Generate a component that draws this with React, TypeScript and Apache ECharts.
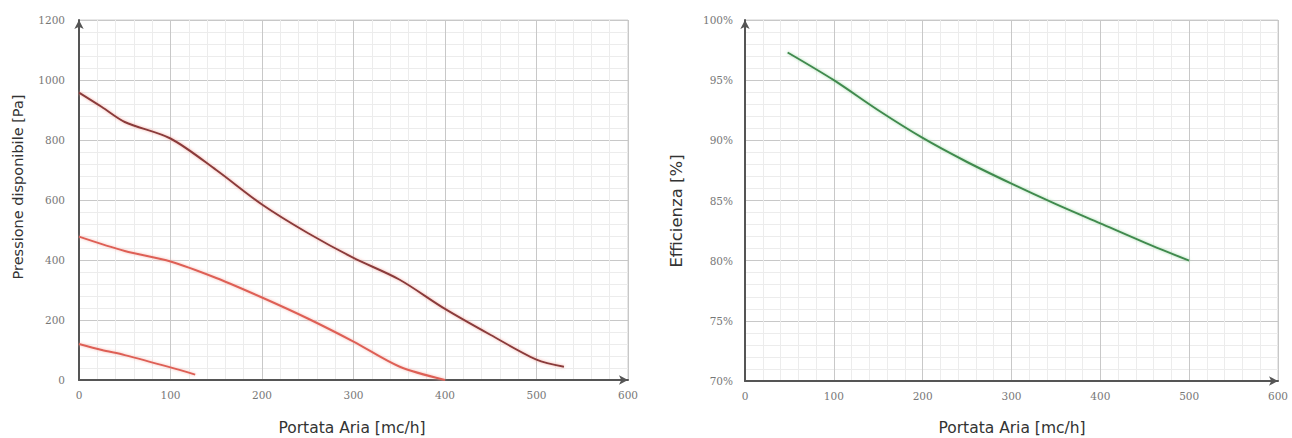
import React, { useEffect, useRef } from "react";
import * as echarts from "echarts";

const xTicks = [0, 100, 200, 300, 400, 500, 600];

const curveHighX = [0, 25, 50, 100, 150, 200, 250, 300, 350, 400, 450, 500, 530];
const curveHighY = [958, 910, 860, 805, 700, 585, 490, 407, 335, 237, 150, 68, 44];

const curveMidX = [0, 50, 100, 150, 200, 250, 300, 350, 400];
const curveMidY = [478, 430, 395, 340, 275, 205, 128, 45, 0];

const curveLowX = [0, 25, 50, 100, 127];
const curveLowY = [120, 100, 83, 42, 18];

const effX = [48, 100, 150, 200, 250, 300, 350, 400, 450, 500];
const effY = [97.3, 95, 92.5, 90.2, 88.2, 86.4, 84.7, 83.1, 81.5, 80];

const xName = "Portata Aria [mc/h]";
const yNameLeft = "Pressione disponibile [Pa]";
const yNameRight = "Efficienza [%]";

const zip = (xs: number[], ys: number[]) => xs.map((x, i) => [x, ys[i]]);

export default function App() {
  const ref = useRef<HTMLDivElement>(null);
  useEffect(() => {
    if (!ref.current) return;
    const chart = echarts.init(ref.current, undefined, { renderer: "svg" });
    const tickFont = { color: "#777", fontSize: 10.5, fontFamily: "DejaVu Serif" };
    const nameStyle = { fill: "#333", fontFamily: "DejaVu Sans", align: "center", verticalAlign: "middle" };
    const axisLine = {
      show: true,
      symbol: ["none", "arrow"],
      symbolSize: [7, 9],
      lineStyle: { color: "#555", width: 2 },
    };
    const splitLine = { show: true, lineStyle: { color: "#c8c8c8", width: 1 } };
    const minorSplitLine = { show: true, lineStyle: { color: "#ececec", width: 1 } };
    const xAxisBase = (gi: number) => ({
      type: "value",
      gridIndex: gi,
      min: xTicks[0],
      max: xTicks[xTicks.length - 1],
      interval: 100,
      axisLine,
      axisTick: { show: false },
      axisLabel: { ...tickFont, margin: 9 },
      splitLine,
      minorTick: { show: false, splitNumber: 5 },
      minorSplitLine,
    });
    chart.setOption({
      animation: false,
      backgroundColor: "#fff",
      grid: [
        { left: 79, top: 20, width: 549, height: 360, show: true, borderColor: "#d0d0d0", borderWidth: 1, backgroundColor: "transparent" },
        { left: 745, top: 20, width: 533, height: 361, show: true, borderColor: "#d0d0d0", borderWidth: 1, backgroundColor: "transparent" },
      ],
      xAxis: [xAxisBase(0), xAxisBase(1)],
      yAxis: [
        {
          type: "value",
          gridIndex: 0,
          min: 0,
          max: 1200,
          interval: 200,
          axisLine,
          axisTick: { show: false },
          axisLabel: { ...tickFont, margin: 14, formatter: (v: number) => String(v) },
          splitLine,
          minorTick: { show: false, splitNumber: 5 },
          minorSplitLine,
        },
        {
          type: "value",
          gridIndex: 1,
          min: 70,
          max: 100,
          interval: 5,
          axisLine,
          axisTick: { show: false },
          axisLabel: { ...tickFont, margin: 12, formatter: "{value}%" },
          splitLine,
          minorTick: { show: false, splitNumber: 5 },
          minorSplitLine,
        },
      ],
      graphic: [
        { type: "text", x: 352, y: 428, style: { ...nameStyle, fontSize: 15.5, text: xName } },
        { type: "text", x: 1012, y: 428, style: { ...nameStyle, fontSize: 15.5, text: xName } },
        { type: "text", x: 18, y: 187, rotation: Math.PI / 2, style: { ...nameStyle, fontSize: 14.5, text: yNameLeft } },
        { type: "text", x: 676, y: 211, rotation: Math.PI / 2, style: { ...nameStyle, fontSize: 16.5, text: yNameRight } },
      ],
      series: [
        {
          type: "line",
          xAxisIndex: 0,
          yAxisIndex: 0,
          data: zip(curveHighX, curveHighY),
          smooth: 0.3,
          showSymbol: false,
          lineStyle: { color: "#8a3a3a", width: 2, shadowColor: "rgba(240,150,140,0.8)", shadowBlur: 3 },
        },
        {
          type: "line",
          xAxisIndex: 0,
          yAxisIndex: 0,
          data: zip(curveMidX, curveMidY),
          smooth: 0.3,
          showSymbol: false,
          lineStyle: { color: "#de5f55", width: 2, shadowColor: "rgba(245,170,160,0.8)", shadowBlur: 3 },
        },
        {
          type: "line",
          xAxisIndex: 0,
          yAxisIndex: 0,
          data: zip(curveLowX, curveLowY),
          smooth: 0.3,
          showSymbol: false,
          lineStyle: { color: "#de5f55", width: 2, shadowColor: "rgba(245,170,160,0.8)", shadowBlur: 3 },
        },
        {
          type: "line",
          xAxisIndex: 1,
          yAxisIndex: 1,
          data: zip(effX, effY),
          smooth: 0.3,
          showSymbol: false,
          lineStyle: { color: "#3f8a4e", width: 2, shadowColor: "rgba(140,210,150,0.8)", shadowBlur: 3 },
        },
      ],
    });
    return () => chart.dispose();
  }, []);
  return (
    <div
      ref={ref}
      style={{ position: "fixed", left: 0, top: 0, width: 1292, height: 438, background: "#fff" }}
    />
  );
}
